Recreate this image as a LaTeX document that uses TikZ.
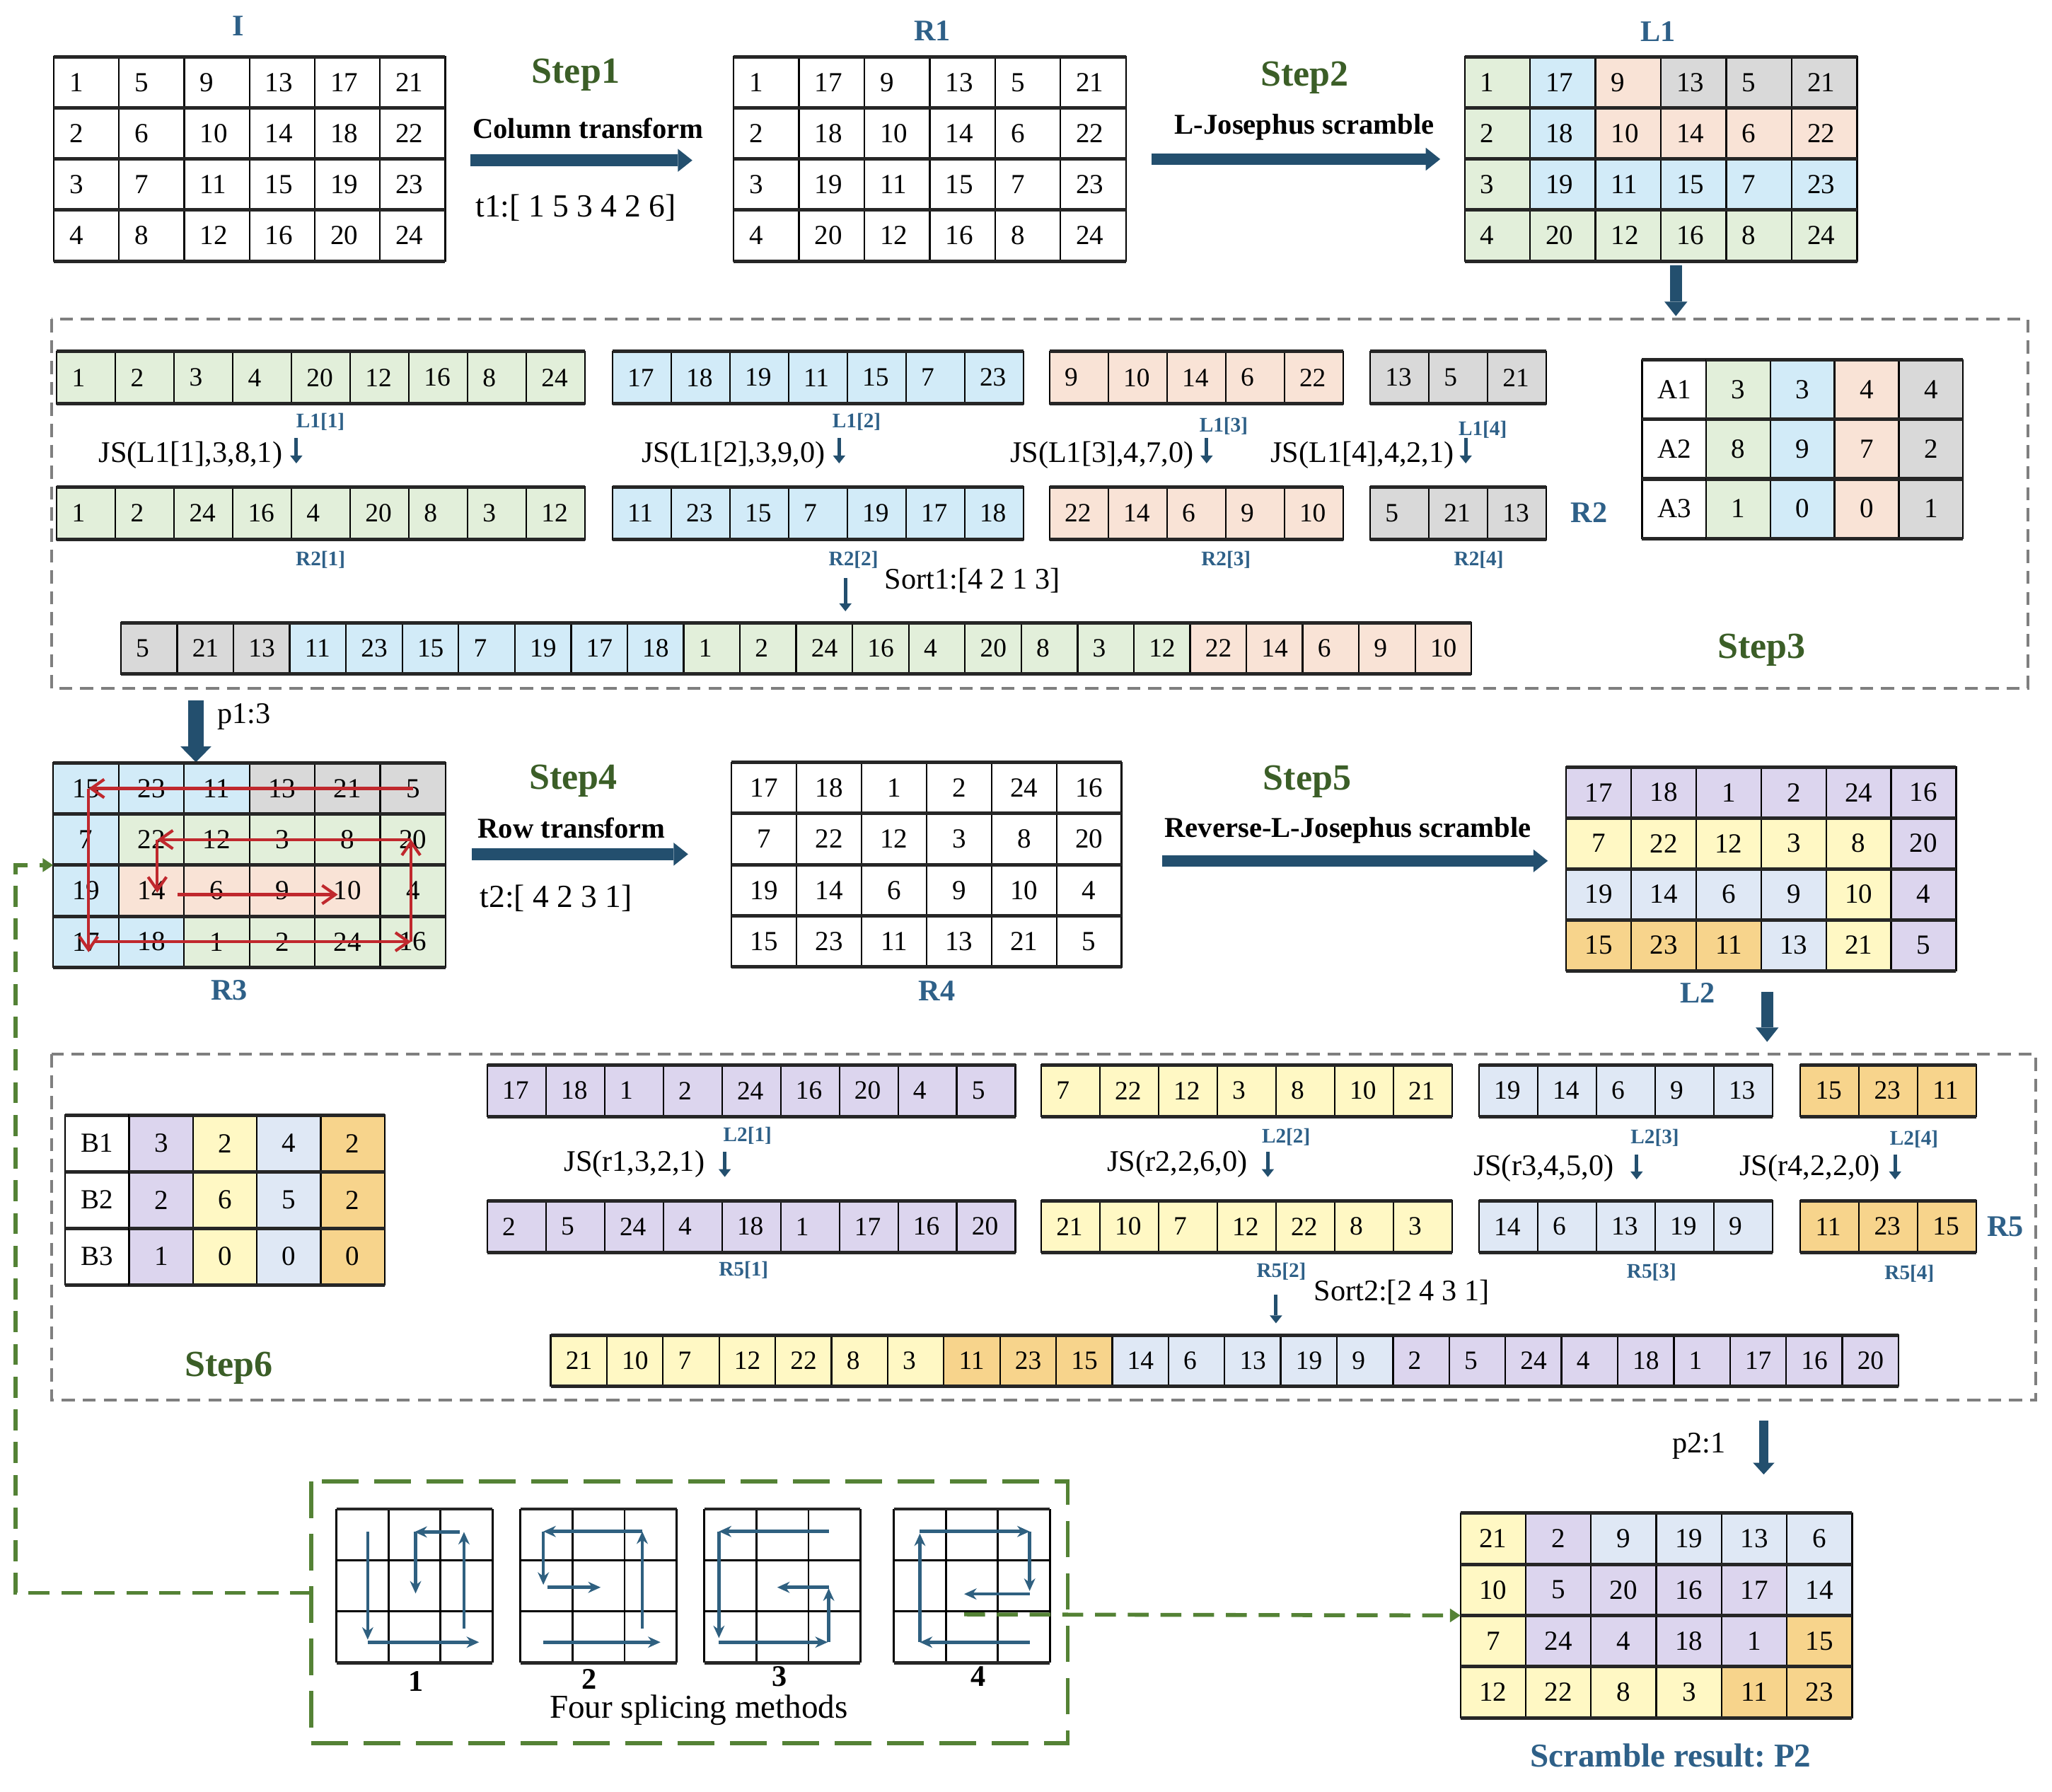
\documentclass[tikz,border=0pt]{standalone}
\usepackage{fontspec}
\setmainfont{Liberation Serif}
\usetikzlibrary{arrows.meta,calc}
\definecolor{gL}{HTML}{E2EFDA}
\definecolor{bL}{HTML}{D2EBF8}
\definecolor{pL}{HTML}{F9E3D6}
\definecolor{gyL}{HTML}{D9D9D9}
\definecolor{puL}{HTML}{DCD5EE}
\definecolor{yL}{HTML}{FFF8C4}
\definecolor{lbL}{HTML}{DFE8F5}
\definecolor{oL}{HTML}{F7D48C}
\definecolor{stepG}{HTML}{3B5E27}
\definecolor{lblB}{HTML}{2E6088}
\definecolor{arrB}{HTML}{234F6E}
\definecolor{redC}{HTML}{C0282D}
\definecolor{greenD}{HTML}{548235}
\definecolor{boxG}{HTML}{7F7F7F}
\definecolor{spB}{HTML}{2F6080}
\newcommand\cellrow[8]{%
  \pgfmathsetmacro\twL{#4*0.2-4.8}%
  \pgfmathsetmacro\twS{#4*0.2-4.6}%
  \pgfmathsetmacro\twC{#4*0.2-1}%
  \pgfmathsetmacro\cwd{#4*0.2}%
  \pgfmathsetmacro\chh{#5*0.2}%
  \foreach \v/\c [count=\i] in {#8}{%
    \node[cell#6, fill=\c, minimum width=\cwd mm, minimum height=\chh mm] (#1-\i) at ({#2+(\i-0.5)*#4},{#3+#5/2}) {\v};
  }%
  \draw[edgeln] (#1-1.north west) -- (#1-#7.north east);
  \draw[edgeln] (#1-1.south west) -- (#1-#7.south east);
}
\begin{document}
\frenchspacing
\begin{tikzpicture}[x=0.2mm,y=-0.2mm,
  cellbase/.style={draw=black,line width=0.25mm,outer sep=0pt,inner ysep=0pt},
  cellL/.style={cellbase,align=left,inner xsep=2.4mm,text width=\twL mm,font=\fontsize{12}{14}\selectfont},
  cellS/.style={cellbase,align=left,inner xsep=2.3mm,text width=\twS mm,font=\fontsize{11.5}{13}\selectfont},
  cellC/.style={cellbase,align=center,inner xsep=0.5mm,text width=\twC mm,font=\fontsize{12}{14}\selectfont},
  edgeln/.style={line width=0.55mm,draw=black!85},
  txt/.style={inner sep=0pt,outer sep=0pt},
  stepT/.style={txt,font=\fontsize{16}{18}\selectfont\bfseries,text=stepG},
  subT/.style={txt,font=\fontsize{12.5}{14}\selectfont\bfseries},
  parT/.style={txt,font=\fontsize{14}{16}\selectfont},
  lblT/.style={txt,font=\fontsize{13}{15}\selectfont\bfseries,text=lblB},
  smlT/.style={txt,font=\fontsize{9}{10}\selectfont\bfseries,text=lblB},
  jsT/.style={txt,font=\fontsize{13}{15}\selectfont},
  bigA/.style={draw=arrB,line width=1.8mm,-{Triangle[length=2.2mm,width=3.5mm,line width=0pt]}},
  hugeA/.style={draw=arrB,line width=2.36mm,-{Triangle[length=2.4mm,width=4.7mm,line width=0pt]}},
  midA/.style={draw=arrB,line width=1.45mm,-{Triangle[length=1.8mm,width=3.3mm,line width=0pt]}},
  smallA/.style={draw=arrB,line width=0.55mm,-{Triangle[length=1.2mm,width=1.9mm,line width=0pt]}},
  redArr/.style={draw=redC,line width=0.45mm,-{Straight Barb[length=2mm,width=2.8mm]}},
  spArr/.style={draw=spB,line width=0.5mm,-{Stealth[length=1.9mm,width=1.7mm]}},
  grayBox/.style={draw=boxG,line width=0.4mm,dash pattern=on 2mm off 1.2mm},
  greenBox/.style={draw=greenD,line width=0.6mm,dash pattern=on 5.6mm off 2.4mm},
  greenLn/.style={draw=greenD,line width=0.6mm,dash pattern=on 3.2mm off 1.8mm,-{Triangle[length=1.6mm,width=2mm]}},
  gridln/.style={draw=black,line width=0.3mm}
]
\fill[white] (0,0) rectangle (1568,1369);
\path[use as bounding box] (0,0) rectangle (1568,1369);

% ---------- dashed boxes ----------
\draw[grayBox] (39.5,243.8) rectangle (1549.5,526);
\draw[grayBox] (39.5,805.4) rectangle (1555.7,1069.7);
\coordinate (spTL) at (237.8,1131.9);
\coordinate (spBR) at (815.8,1331.9);
\draw[greenBox] (spTL) rectangle (spBR);

% ---------- top row ----------
\node[lblT] (lblI) at (182,19.8) {I};
\cellrow{I-1}{41}{43.6}{49.87}{38.97}{L}{6}{1/white,5/white,9/white,13/white,17/white,21/white}
\cellrow{I-2}{41}{82.57}{49.87}{38.97}{L}{6}{2/white,6/white,10/white,14/white,18/white,22/white}
\cellrow{I-3}{41}{121.54}{49.87}{38.97}{L}{6}{3/white,7/white,11/white,15/white,19/white,23/white}
\cellrow{I-4}{41}{160.51}{49.87}{38.97}{L}{6}{4/white,8/white,12/white,16/white,20/white,24/white}

\node[stepT] (st1) at (439.9,57.3) {Step1};
\node[subT] (ct) at (449.4,98.2) {Column transform};
\node[parT] (t1) at (440,159) {t1:[ 1 5 3 4 2 6]};
\coordinate (a1s) at (359.5,122.5); \coordinate (a1e) at (529,122.5);
\draw[bigA] (a1s) -- (a1e);

\node[lblT] (lblR1) at (712.5,23.4) {R1};
\cellrow{R1-1}{560.5}{43.6}{49.97}{38.97}{L}{6}{1/white,17/white,9/white,13/white,5/white,21/white}
\cellrow{R1-2}{560.5}{82.57}{49.97}{38.97}{L}{6}{2/white,18/white,10/white,14/white,6/white,22/white}
\cellrow{R1-3}{560.5}{121.54}{49.97}{38.97}{L}{6}{3/white,19/white,11/white,15/white,7/white,23/white}
\cellrow{R1-4}{560.5}{160.51}{49.97}{38.97}{L}{6}{4/white,20/white,12/white,16/white,8/white,24/white}

\node[stepT] (st2) at (996.8,59.5) {Step2};
\node[subT] (ljs) at (996.8,97.3) {L-Josephus scramble};
\coordinate (a2s) at (880,121.6); \coordinate (a2e) at (1100.5,121.6);
\draw[bigA] (a2s) -- (a2e);

\node[lblT] (lblL1) at (1267,24.3) {L1};
\cellrow{L1-1}{1119.2}{43.6}{49.98}{38.97}{L}{6}{1/gL,17/bL,9/pL,13/gyL,5/gyL,21/gyL}
\cellrow{L1-2}{1119.2}{82.57}{49.98}{38.97}{L}{6}{2/gL,18/bL,10/pL,14/pL,6/pL,22/pL}
\cellrow{L1-3}{1119.2}{121.54}{49.98}{38.97}{L}{6}{3/gL,19/bL,11/bL,15/bL,7/bL,23/bL}
\cellrow{L1-4}{1119.2}{160.51}{49.98}{38.97}{L}{6}{4/gL,20/gL,12/gL,16/gL,8/gL,24/gL}
\coordinate (a3s) at (1280.6,202.7); \coordinate (a3e) at (1280.6,241.5);
\draw[bigA] (a3s) -- (a3e);

% ---------- Step3 ----------
\cellrow{L1a}{43.4}{268.5}{44.85}{40}{S}{9}{1/gL,2/gL,3/gL,4/gL,20/gL,12/gL,16/gL,8/gL,24/gL}
\cellrow{L1b}{468}{268.5}{44.85}{40}{S}{7}{17/bL,18/bL,19/bL,11/bL,15/bL,7/bL,23/bL}
\cellrow{L1c}{802}{268.5}{44.85}{40}{S}{5}{9/pL,10/pL,14/pL,6/pL,22/pL}
\cellrow{L1d}{1047}{268.5}{44.85}{40}{S}{3}{13/gyL,5/gyL,21/gyL}

\node[smlT] (lL11) at (244.9,322.5) {L1[1]};
\node[smlT] (lL12) at (654.6,322.5) {L1[2]};
\node[smlT] (lL13) at (935,325.4) {L1[3]};
\node[smlT] (lL14) at (1133,328) {L1[4]};

\node[jsT] (js1) at (145.6,347.7) {JS(L1[1],3,8,1)};
\node[jsT] (js2) at (560.5,347.7) {JS(L1[2],3,9,0)};
\node[jsT] (js3) at (842,347.6) {JS(L1[3],4,7,0)};
\node[jsT] (js4) at (1041,347.6) {JS(L1[4],4,2,1)};
\foreach \k/\xx in {1/226.4,2/641.2,3/922,4/1120}{
  \coordinate (sa\k) at (\xx,334.6); \coordinate (sb\k) at (\xx,354);
  \draw[smallA] (sa\k) -- (sb\k);
}

\cellrow{R2a}{43.4}{372.2}{44.85}{40}{S}{9}{1/gL,2/gL,24/gL,16/gL,4/gL,20/gL,8/gL,3/gL,12/gL}
\cellrow{R2b}{468}{372.2}{44.85}{40}{S}{7}{11/bL,23/bL,15/bL,7/bL,19/bL,17/bL,18/bL}
\cellrow{R2c}{802}{372.2}{44.85}{40}{S}{5}{22/pL,14/pL,6/pL,9/pL,10/pL}
\cellrow{R2d}{1047}{372.2}{44.85}{40}{S}{3}{5/gyL,21/gyL,13/gyL}
\node[lblT] (lblR2) at (1214.4,391.4) {R2};

\node[smlT] (lR21) at (244.9,427.6) {R2[1]};
\node[smlT] (lR22) at (652.2,427.6) {R2[2]};
\node[smlT] (lR23) at (936.8,427.6) {R2[3]};
\node[smlT] (lR24) at (1130,427.6) {R2[4]};

% A table
\cellrow{A-1}{1254.7}{275}{49.05}{45.47}{L}{1}{A1/white}
\cellrow{Av-1}{1303.75}{275}{49.05}{45.47}{C}{4}{3/gL,3/bL,4/pL,4/gyL}
\cellrow{A-2}{1254.7}{320.47}{49.05}{45.47}{L}{1}{A2/white}
\cellrow{Av-2}{1303.75}{320.47}{49.05}{45.47}{C}{4}{8/gL,9/bL,7/pL,2/gyL}
\cellrow{A-3}{1254.7}{365.94}{49.05}{45.47}{L}{1}{A3/white}
\cellrow{Av-3}{1303.75}{365.94}{49.05}{45.47}{C}{4}{1/gL,0/bL,0/pL,1/gyL}

\node[jsT] (sort1) at (743,443.5) {Sort1:[4 2 1 3]};
\coordinate (s1a) at (646,441.6); \coordinate (s1b) at (646,467);
\draw[smallA] (s1a) -- (s1b);

\cellrow{S1}{92.4}{475.7}{43}{39.1}{S}{24}{5/gyL,21/gyL,13/gyL,11/bL,23/bL,15/bL,7/bL,19/bL,17/bL,18/bL,1/gL,2/gL,24/gL,16/gL,4/gL,20/gL,8/gL,3/gL,12/gL,22/pL,14/pL,6/pL,9/pL,10/pL}
\node[stepT] (st3) at (1346,496.5) {Step3};

% ---------- middle row ----------
\coordinate (p1s) at (149.7,535); \coordinate (p1e) at (149.7,582.3);
\draw[hugeA] (p1s) -- (p1e);
\node[jsT] (p1) at (186.5,547.7) {p1:3};

\cellrow{R3-1}{40.7}{582.9}{49.98}{39.03}{C}{6}{15/bL,23/bL,11/bL,13/gyL,21/gyL,5/gyL}
\cellrow{R3-2}{40.7}{621.93}{49.98}{39.03}{C}{6}{7/bL,22/gL,12/gL,3/gL,8/gL,20/gL}
\cellrow{R3-3}{40.7}{660.96}{49.98}{39.03}{C}{6}{19/bL,14/pL,6/pL,9/pL,10/pL,4/gL}
\cellrow{R3-4}{40.7}{699.99}{49.98}{39.03}{C}{6}{17/bL,18/bL,1/gL,2/gL,24/gL,16/gL}
\node[lblT] (lblR3) at (175.2,756.8) {R3};

\draw[redArr] (R3-1-6.center) -- ([xshift=0.4mm]R3-1-1.center);
\draw[redArr] ([xshift=0.4mm]R3-1-1.center) -- ([xshift=0.4mm,yshift=-1.6mm]R3-4-1.center);
\draw[redArr] ([xshift=1.4mm]R3-4-1.center) -- ([xshift=-0.3mm]R3-4-6.center);
\draw[redArr] ([xshift=-0.3mm]R3-4-6.center) -- ([xshift=-0.3mm]R3-2-6.center);
\draw[redArr] ([xshift=-0.3mm]R3-2-6.center) -- ([xshift=0.9mm]R3-2-2.center);
\draw[redArr] ([xshift=0.9mm]R3-2-2.center) -- ([xshift=0.9mm,yshift=-0.3mm]R3-3-2.center);
\draw[redArr] ([xshift=4mm,yshift=-0.6mm]R3-3-2.center) -- ([xshift=-1.5mm,yshift=-0.6mm]R3-3-5.center);

\node[stepT] (st4) at (438.2,596.4) {Step4};
\node[subT] (rt) at (436.7,632.4) {Row transform};
\coordinate (a4s) at (360.6,652.6); \coordinate (a4e) at (525.8,652.6);
\draw[bigA] (a4s) -- (a4e);
\node[parT] (t2) at (425,686.5) {t2:[ 4 2 3 1]};

\cellrow{R4-1}{559}{582.5}{49.67}{39.05}{C}{6}{17/white,18/white,1/white,2/white,24/white,16/white}
\cellrow{R4-2}{559}{621.55}{49.67}{39.05}{C}{6}{7/white,22/white,12/white,3/white,8/white,20/white}
\cellrow{R4-3}{559}{660.6}{49.67}{39.05}{C}{6}{19/white,14/white,6/white,9/white,10/white,4/white}
\cellrow{R4-4}{559}{699.65}{49.67}{39.05}{C}{6}{15/white,23/white,11/white,13/white,21/white,5/white}
\node[lblT] (lblR4) at (715.8,756.8) {R4};

\node[stepT] (st5) at (998.9,597.3) {Step5};
\node[subT] (rljs) at (1030,634.2) {Reverse-L-Josephus scramble};
\coordinate (a5s) at (888,657.7); \coordinate (a5e) at (1182.7,657.7);
\draw[bigA] (a5s) -- (a5e);

\cellrow{L2-1}{1196.8}{586}{49.65}{38.9}{C}{6}{17/puL,18/puL,1/puL,2/puL,24/puL,16/puL}
\cellrow{L2-2}{1196.8}{624.9}{49.65}{38.9}{C}{6}{7/yL,22/yL,12/yL,3/yL,8/yL,20/puL}
\cellrow{L2-3}{1196.8}{663.8}{49.65}{38.9}{C}{6}{19/lbL,14/lbL,6/lbL,9/lbL,10/yL,4/puL}
\cellrow{L2-4}{1196.8}{702.7}{49.65}{38.9}{C}{6}{15/oL,23/oL,11/oL,13/lbL,21/yL,5/puL}
\node[lblT] (lblL2) at (1297.4,758.6) {L2};
\coordinate (a6s) at (1350.3,757.7); \coordinate (a6e) at (1350.3,796);
\draw[bigA] (a6s) -- (a6e);

% ---------- Step6 ----------
\cellrow{B-1}{49.9}{851.9}{48.8}{43.23}{L}{1}{B1/white}
\cellrow{Bv-1}{98.7}{851.9}{48.8}{43.23}{C}{4}{3/puL,2/yL,4/lbL,2/oL}
\cellrow{B-2}{49.9}{895.13}{48.8}{43.23}{L}{1}{B2/white}
\cellrow{Bv-2}{98.7}{895.13}{48.8}{43.23}{C}{4}{2/puL,6/yL,5/lbL,2/oL}
\cellrow{B-3}{49.9}{938.36}{48.8}{43.23}{L}{1}{B3/white}
\cellrow{Bv-3}{98.7}{938.36}{48.8}{43.23}{C}{4}{1/puL,0/yL,0/lbL,0/oL}

\cellrow{L2a}{372.3}{813.5}{44.85}{39.5}{S}{9}{17/puL,18/puL,1/puL,2/puL,24/puL,16/puL,20/puL,4/puL,5/puL}
\cellrow{L2b}{795.6}{813.5}{44.85}{39.5}{S}{7}{7/yL,22/yL,12/yL,3/yL,8/yL,10/yL,21/yL}
\cellrow{L2c}{1130.1}{813.5}{44.85}{39.5}{S}{5}{19/lbL,14/lbL,6/lbL,9/lbL,13/lbL}
\cellrow{L2d}{1375.7}{813.5}{44.85}{39.5}{S}{3}{15/oL,23/oL,11/oL}

\node[smlT] (lL21) at (571.2,867.6) {L2[1]};
\node[smlT] (lL22) at (982.7,868.5) {L2[2]};
\node[smlT] (lL23) at (1264.5,869.4) {L2[3]};
\node[smlT] (lL24) at (1462.6,870.3) {L2[4]};

\node[jsT] (jr1) at (484.8,889.2) {JS(r1,3,2,1)};
\node[jsT] (jr2) at (899.7,889.2) {JS(r2,2,6,0)};
\node[jsT] (jr3) at (1179.5,892.8) {JS(r3,4,5,0)};
\node[jsT] (jr4) at (1383,892.3) {JS(r4,2,2,0)};
\foreach \k/\xx/\yy in {1/553.8/889.2,2/968.8/889.2,3/1250.6/891,4/1448.1/891}{
  \coordinate (ta\k) at (\xx,\yy-9); \coordinate (tb\k) at (\xx,\yy+10);
  \draw[smallA] (ta\k) -- (tb\k);
}

\cellrow{R5a}{372.3}{917.3}{44.85}{39.5}{S}{9}{2/puL,5/puL,24/puL,4/puL,18/puL,1/puL,17/puL,16/puL,20/puL}
\cellrow{R5b}{795.6}{917.3}{44.85}{39.5}{S}{7}{21/yL,10/yL,7/yL,12/yL,22/yL,8/yL,3/yL}
\cellrow{R5c}{1130.1}{917.3}{44.85}{39.5}{S}{5}{14/lbL,6/lbL,13/lbL,19/lbL,9/lbL}
\cellrow{R5d}{1375.7}{917.3}{44.85}{39.5}{S}{3}{11/oL,23/oL,15/oL}
\node[lblT] (lblR5) at (1532.4,936.9) {R5};

\node[smlT] (lR51) at (568.2,970.3) {R5[1]};
\node[smlT] (lR52) at (979.1,971.2) {R5[2]};
\node[smlT] (lR53) at (1262,972.1) {R5[3]};
\node[smlT] (lR54) at (1459,973) {R5[4]};

\node[jsT] (sort2) at (1071,987.4) {Sort2:[2 4 3 1]};
\coordinate (s2a) at (975,989.2); \coordinate (s2b) at (975,1011);
\draw[smallA] (s2a) -- (s2b);

\cellrow{S2}{420.8}{1020.2}{42.91}{38.8}{S}{24}{21/yL,10/yL,7/yL,12/yL,22/yL,8/yL,3/yL,11/oL,23/oL,15/oL,14/lbL,6/lbL,13/lbL,19/lbL,9/lbL,2/puL,5/puL,24/puL,4/puL,18/puL,1/puL,17/puL,16/puL,20/puL}
\node[stepT] (st6) at (174.9,1045) {Step6};

% ---------- bottom ----------
\coordinate (p2s) at (1347.7,1085.5); \coordinate (p2e) at (1347.7,1126.5);
\draw[midA] (p2s) -- (p2e);
\node[jsT] (p2) at (1298.3,1104.6) {p2:1};

\cellrow{P2-1}{1116}{1156}{49.88}{39.1}{C}{6}{21/yL,2/puL,9/lbL,19/lbL,13/lbL,6/lbL}
\cellrow{P2-2}{1116}{1195.1}{49.88}{39.1}{C}{6}{10/yL,5/puL,20/puL,16/puL,17/puL,14/lbL}
\cellrow{P2-3}{1116}{1234.2}{49.88}{39.1}{C}{6}{7/yL,24/puL,4/puL,18/puL,1/puL,15/oL}
\cellrow{P2-4}{1116}{1273.3}{49.88}{39.1}{C}{6}{12/yL,22/yL,8/yL,3/yL,11/oL,23/oL}
\node[txt,font=\fontsize{14.5}{16}\selectfont\bfseries,text=lblB] (res) at (1276.6,1341) {Scramble result: P2};

% splice grids
\foreach \gx in {257.1,397.7,538.2,683}{
  \begin{scope}[xshift=\gx*0.2mm,yshift=-1152.8*0.2mm,x=7.954mm,y=-7.834mm]
    \foreach \k in {0,1,2,3}{
      \draw[gridln] (\k,0) -- (\k,3);
      \draw[gridln] (0,\k) -- (3,\k);
    }
    \draw[line width=0.5mm,draw=black!85] (0,0) -- (3,0) (0,3) -- (3,3);
  \end{scope}
}
\begin{scope}[xshift=257.1*0.2mm,yshift=-1152.8*0.2mm,x=7.954mm,y=-7.834mm]
  \draw[spArr] (0.6,0.45) -- (0.6,2.55);
  \draw[spArr] (0.6,2.6) -- (2.74,2.6);
  \draw[spArr] (2.45,2.34) -- (2.45,0.45);
  \draw[spArr] (2.37,0.45) -- (1.5,0.45);
  \draw[spArr] (1.52,0.45) -- (1.52,1.65);
\end{scope}
\begin{scope}[xshift=397.7*0.2mm,yshift=-1152.8*0.2mm,x=7.954mm,y=-7.834mm]
  \draw[spArr] (2.34,2.34) -- (2.34,0.44);
  \draw[spArr] (2.34,0.44) -- (0.44,0.44);
  \draw[spArr] (0.44,0.44) -- (0.44,1.48);
  \draw[spArr] (0.52,1.53) -- (1.54,1.53);
  \draw[spArr] (0.44,2.6) -- (2.69,2.6);
\end{scope}
\begin{scope}[xshift=538.2*0.2mm,yshift=-1152.8*0.2mm,x=7.954mm,y=-7.834mm]
  \draw[spArr] (2.39,0.44) -- (0.28,0.44);
  \draw[spArr] (0.28,0.44) -- (0.28,2.52);
  \draw[spArr] (0.28,2.6) -- (2.37,2.6);
  \draw[spArr] (2.39,2.6) -- (2.39,1.55);
  \draw[spArr] (2.39,1.53) -- (1.4,1.53);
\end{scope}
\begin{scope}[xshift=683*0.2mm,yshift=-1152.8*0.2mm,x=7.954mm,y=-7.834mm]
  \draw[spArr] (2.61,2.6) -- (0.5,2.6);
  \draw[spArr] (0.5,2.6) -- (0.5,0.48);
  \draw[spArr] (0.5,0.44) -- (2.61,0.44);
  \draw[spArr] (2.61,0.44) -- (2.61,1.6);
  \draw[spArr] (2.61,1.66) -- (1.35,1.66);
\end{scope}
\node[txt,font=\fontsize{13}{15}\selectfont\bfseries] (g1) at (317.8,1284.7) {1};
\node[txt,font=\fontsize{13}{15}\selectfont\bfseries] (g2) at (450.2,1282.9) {2};
\node[txt,font=\fontsize{13}{15}\selectfont\bfseries] (g3) at (595.7,1281) {3};
\node[txt,font=\fontsize{13}{15}\selectfont\bfseries] (g4) at (747.5,1281) {4};
\node[txt,font=\fontsize{14.5}{16}\selectfont] (fsm) at (534,1306.3) {Four splicing methods};

% green connectors
\coordinate (spL) at (237.8,1217);
\coordinate (lx) at (12,0);
\draw[greenLn] (spL) -- (spL -| lx) -- (lx |- R3-2-1.south west) -- (R3-2-1.south west);
\coordinate (spR) at (736.7,1233.4);
\draw[greenLn] (spR) -- (P2-2-1.south west);
\end{tikzpicture}
\end{document}
